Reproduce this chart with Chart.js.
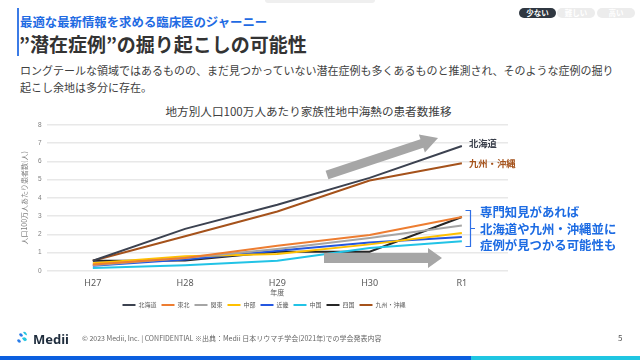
<!DOCTYPE html>
<html><head><meta charset="utf-8">
<script src="https://cdn.jsdelivr.net/npm/chart.js@4.4.1/dist/chart.umd.min.js"></script>
<style>
html,body{margin:0;padding:0;background:#fff;}
body{width:640px;height:360px;position:relative;overflow:hidden;font-family:"Noto Sans CJK JP","Noto Sans",sans-serif;}
.a{position:absolute;white-space:nowrap;}
#c{position:absolute;left:20px;top:100px;}
.pill{position:absolute;top:8px;height:10px;border-radius:5px;font-size:7.5px;line-height:10px;text-align:center;font-weight:bold;color:#fff;}
</style></head><body>
<div class="a" style="left:265px;top:0;width:110px;height:3px;background:#efefef;border-radius:0 0 3px 3px"></div>
<div class="a" style="left:17px;top:8px;width:2px;height:48px;background:#3b7be6"></div>
<div class="a" style="left:20px;top:15px;font-size:12.4px;line-height:14px;font-weight:bold;color:#1f6be3">最適な最新情報を求める臨床医のジャーニー</div>
<div class="a" style="left:19px;top:33px;font-size:19px;line-height:22px;font-weight:bold;color:#333">”潜在症例”の掘り起こしの可能性</div>
<div class="a" style="left:20px;top:62px;font-size:11px;line-height:16.5px;color:#404040">ロングテールな領域ではあるものの、まだ見つかっていない潜在症例も多くあるものと推測され、そのような症例の掘り<br>起こし余地は多分に存在。</div>
<div class="pill" style="left:519px;width:37px;background:#2f3741">少ない</div>
<div class="pill" style="left:557px;width:38px;background:#ececec">難しい</div>
<div class="pill" style="left:597px;width:38px;background:#ececec">高い</div>

<div class="a" style="left:165px;top:104px;width:287px;text-align:center;font-size:11.6px;line-height:15px;color:#404040">地方別人口100万人あたり家族性地中海熱の患者数推移</div>

<canvas id="c" width="500" height="218"></canvas>

<svg class="a" style="left:0;top:0" width="640" height="360">
  <g fill="#a6a6a6">
    <polygon points="0,-4.5 100,-4.5 100,-9.5 117,0 100,9.5 100,4.5 0,4.5" transform="translate(327,175) rotate(-18.4)"/>
    <polygon points="324,253 428,253 428,248 442,258 428,268 428,263 324,263"/>
  </g>
  <path d="M465.5,210.5 H470.5 V246.5 H465.5 M470.5,228.5 H475" stroke="#2f6fe6" stroke-width="1.2" fill="none"/>
  <g transform="translate(17,332)">
    <path d="M2,2 Q5,0 6,4 Q3,6 2,2Z" fill="#2b7de9"/>
    <path d="M5,6 Q9,4 10,8 Q7,11 5,6Z" fill="#25c6e0"/>
    <path d="M0,8 Q3,6 4,10 Q1,12 0,8Z" fill="#2b7de9"/>
    <path d="M6,0 Q9,-1 10,3 Q8,4 6,0Z" fill="#25c6e0"/>
  </g>
</svg>

<div class="a" style="left:469px;top:137px;font-size:9.3px;line-height:12px;font-weight:bold;color:#3a3f4b">北海道</div>
<div class="a" style="left:469px;top:157px;font-size:9.3px;line-height:12px;font-weight:bold;color:#a5521b">九州・沖縄</div>
<div class="a" style="left:480px;top:204px;font-size:12.4px;line-height:16.7px;font-weight:bold;color:#1c6be3">専門知見があれば<br>北海道や九州・沖縄並に<br>症例が見つかる可能性も</div>

<div class="a" style="left:33px;top:331px;font-size:13px;line-height:16px;font-weight:bold;color:#1f2d3d;font-family:'Noto Sans',sans-serif">Medii</div>
<div class="a" style="left:82px;top:334px;font-size:7px;line-height:9px;color:#666">© 2023 Medii, Inc. | CONFIDENTIAL ※出典：Medii 日本リウマチ学会(2021年)での学会発表内容</div>
<div class="a" style="left:618px;top:333px;font-size:8px;line-height:10px;color:#555">5</div>
<div class="a" style="left:0;top:356px;width:471px;height:4px;background:#0b5fdf"></div>
<div class="a" style="left:471px;top:356px;width:169px;height:4px;background:#20c6e2"></div>

<script>
const years = ['H27','H28','H29','H30','R1'];
const regionNames = ['北海道','東北','関東','中部','近畿','中国','四国','九州・沖縄'];
const hokkaido = [0.55, 2.3, 3.62, 5.1, 6.85];
const tohoku   = [0.35, 0.7, 1.38, 1.96, 2.95];
const kanto    = [0.3, 0.7, 1.2, 1.8, 2.49];
const chubu    = [0.42, 0.8, 0.92, 1.45, 2.07];
const kinki    = [0.28, 0.62, 1.1, 1.55, 1.85];
const chugoku  = [0.15, 0.3, 0.55, 1.25, 1.62];
const shikoku  = [0.55, 0.57, 1.05, 1.05, 2.95];
const kyushu   = [0.55, 1.9, 3.25, 4.95, 5.9];
const yTitle = '人口100万人あたり患者数(人)';
const xTitle = '年度';

const seriesValues = [hokkaido, tohoku, kanto, chubu, kinki, chugoku, shikoku, kyushu];
const colors = ['#3c4250','#ed7d31','#a5a5a5','#ffc000','#2457e0','#22c3e6','#262626','#a5521b'];

const datasets = regionNames.map((n,i)=>({
  label:n, data:seriesValues[i], borderColor:colors[i], backgroundColor:colors[i],
  borderWidth:2, pointRadius:0, tension:0, fill:false
}));

new Chart(document.getElementById('c'), {
  type:'line',
  data:{labels:years, datasets},
  options:{
    responsive:false, animation:false, devicePixelRatio:1,
    layout:{padding:{top:25,right:12,left:0,bottom:0}},
    plugins:{
      legend:{position:'bottom', labels:{usePointStyle:true, pointStyle:'line', pointStyleWidth:13, font:{size:6, family:'"Noto Sans CJK JP"'}, color:'#595959', padding:5}},
      title:{display:false}, tooltip:{enabled:false}
    },
    scales:{
      x:{offset:true, grid:{display:false, drawTicks:false}, border:{display:false},
         ticks:{font:{size:9, family:'"Noto Sans", sans-serif'}, color:'#595959', padding:7},
         title:{display:true, text:xTitle, font:{size:7, family:'"Noto Sans CJK JP"'}, color:'#595959', padding:{top:-7,bottom:0}}},
      y:{min:0, max:8, ticks:{stepSize:1, font:{size:6.5}, color:'#808080', padding:5},
         grid:{color:'#e8e8e8', lineWidth:1.5, drawTicks:false}, border:{display:false},
         title:{display:true, text:yTitle, font:{size:7, family:'"Noto Sans CJK JP"'}, color:'#808080', padding:0},
         afterFit(s){ s.width = 26.7; }}
    }
  }
});
</script>
</body></html>
